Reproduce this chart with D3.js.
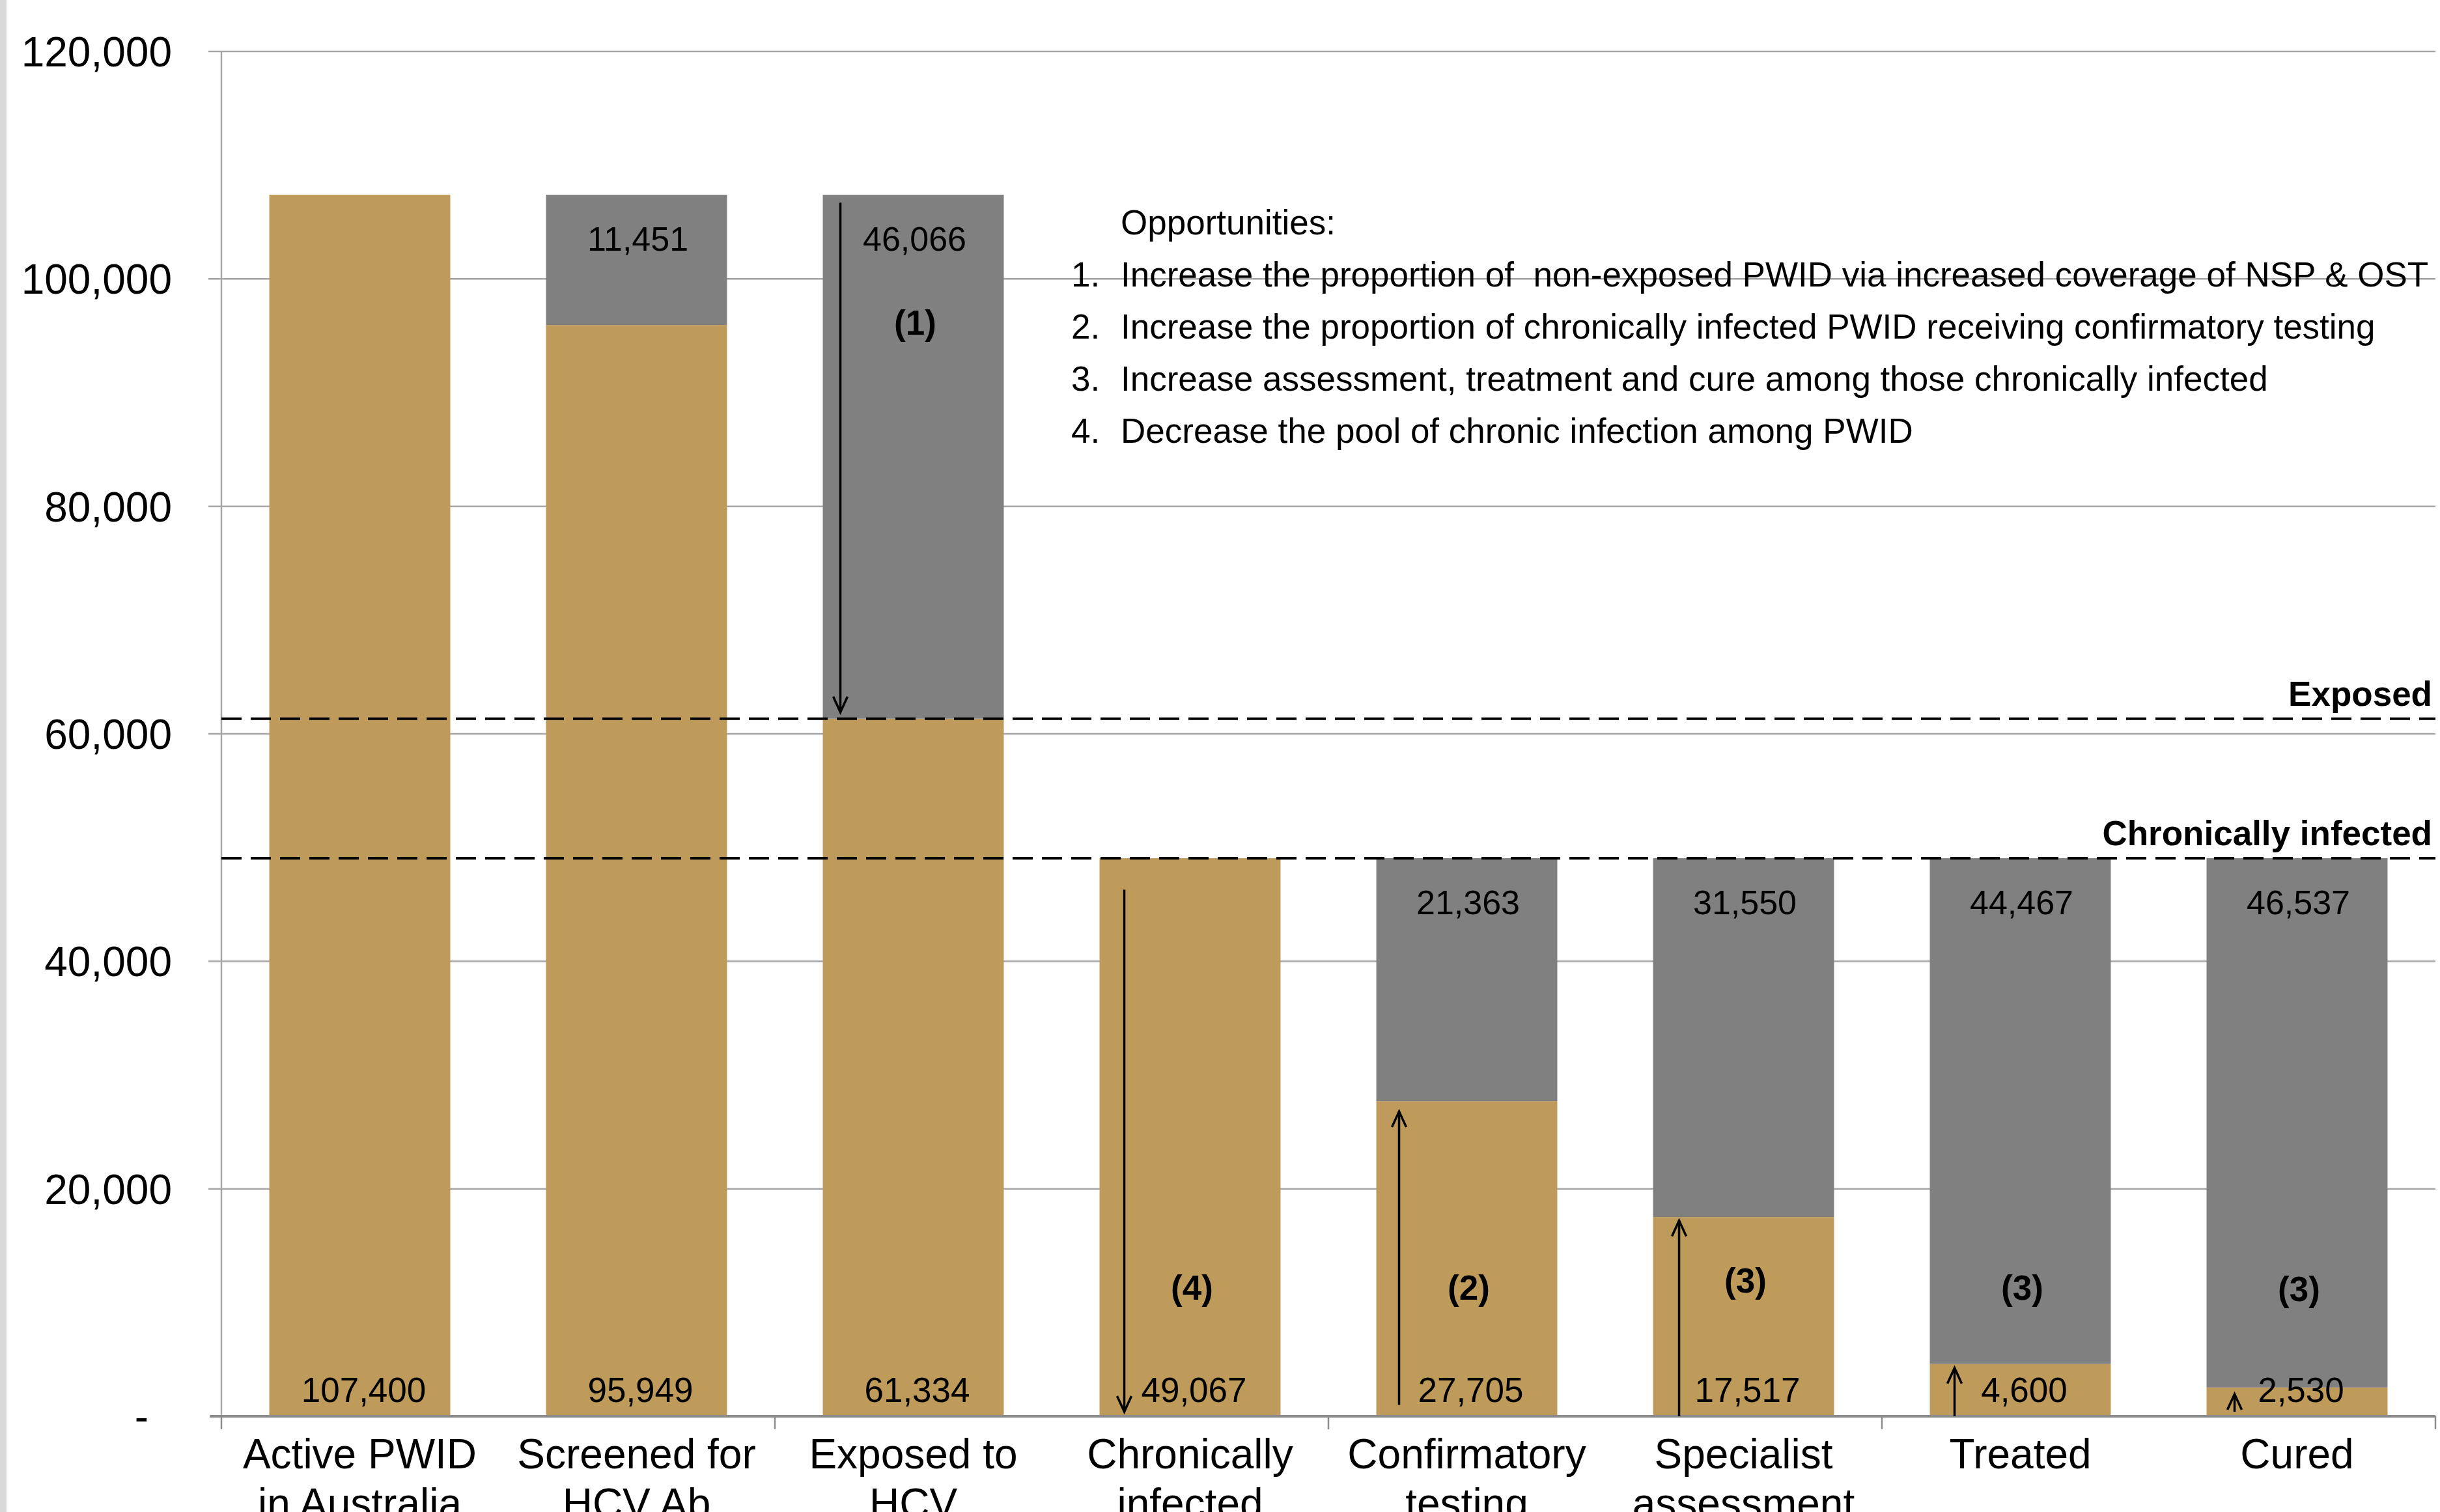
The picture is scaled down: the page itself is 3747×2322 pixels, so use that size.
<!DOCTYPE html>
<html>
<head>
<meta charset="utf-8">
<script src="https://cdn.jsdelivr.net/npm/d3@7/dist/d3.min.js"></script>
<style>
  body { margin: 0; overflow: hidden; background: #fff; }
  text { font-family: "Liberation Sans", Arial, sans-serif; fill: #000; }
</style>
</head>
<body>
<svg id="chart" width="3747" height="2322"></svg>
<script>
// categories, two lines each
const categories = [
    ["Active PWID", "in Australia"],
    ["Screened for", "HCV Ab"],
    ["Exposed to", "HCV"],
    ["Chronically", "infected"],
    ["Confirmatory", "testing"],
    ["Specialist", "assessment"],
    ["Treated", ""],
    ["Cured", ""]
];
const reached = [107400, 95949, 61334, 49067, 27705, 17517, 4600, 2530];
const gap = [0, 11451, 46066, 0, 21363, 31550, 44467, 46537];

const yTicks = [0, 20000, 40000, 60000, 80000, 100000, 120000];

const refLines = [
    { label: "Exposed", value: 61334 },
    { label: "Chronically infected", value: 49067 }
];

// opportunity markers: bar index, value where the "(n)" sits
const markers = [
    { bar: 2, text: "(1)", value: 96200 },
    { bar: 3, text: "(4)", value: 11350 },
    { bar: 4, text: "(2)", value: 11350 },
    { bar: 5, text: "(3)", value: 11950 },
    { bar: 6, text: "(3)", value: 11350 },
    { bar: 7, text: "(3)", value: 11250 }
];

// arrows: bar index, from value, to value
const arrows = [
    { bar: 2, from: 106700, to: 61900 },
    { bar: 3, from: 46300, to: 400 },
    { bar: 4, from: 1000, to: 26800 },
    { bar: 5, from: 0, to: 17200 },
    { bar: 6, from: 0, to: 4250 },
    { bar: 7, from: 400, to: 1950 }
];

const opportunities = [
    "Increase the proportion of  non-exposed PWID via increased coverage of NSP & OST",
    "Increase the proportion of chronically infected PWID receiving confirmatory testing",
    "Increase assessment, treatment and cure among those chronically infected",
    "Decrease the pool of chronic infection among PWID"
];

const gold = "#BF9B5B";
const grey = "#808080";

const svg = d3.select('#chart');
const width = +svg.attr('width');
const height = +svg.attr('height');

const margin = { top: 79, right: 7, left: 340 };
const baseY = 2175;

const xScale = d3.scaleBand()
    .domain(d3.range(categories.length))
    .range([margin.left, width - margin.right])
    .paddingInner(0.346)
    .paddingOuter(0.173);

const yScale = d3.scaleLinear()
    .domain([0, 120000])
    .range([baseY, margin.top]);

const fmt = d3.format(",");

// left edge strip
svg.append('rect').attr('x', 0).attr('y', 0).attr('width', 10).attr('height', height).attr('fill', '#d9d9d9');

// gridlines
svg.append('g')
    .selectAll('line')
    .data(yTicks.filter(d => d > 0))
    .enter().append('line')
    .attr('x1', margin.left - 20)
    .attr('x2', width - margin.right)
    .attr('y1', d => yScale(d))
    .attr('y2', d => yScale(d))
    .attr('stroke', '#a6a6a6')
    .attr('stroke-width', 2.5);

// y axis line
svg.append('line')
    .attr('x1', margin.left).attr('x2', margin.left)
    .attr('y1', yScale(120000)).attr('y2', baseY)
    .attr('stroke', '#a6a6a6').attr('stroke-width', 2.5);

// y tick labels
svg.append('g')
    .selectAll('text')
    .data(yTicks)
    .enter().append('text')
    .attr('x', d => d == 0 ? 228 : 264)
    .attr('y', d => yScale(d))
    .attr('dy', '0.36em')
    .attr('text-anchor', 'end')
    .style('font-size', '64px')
    .text(d => d == 0 ? "-" : fmt(d));

// bars
const barGroup = svg.append('g');
barGroup.selectAll('rect.gold')
    .data(reached)
    .enter().append('rect')
    .attr('class', 'gold')
    .attr('x', (d, i) => xScale(i))
    .attr('width', xScale.bandwidth())
    .attr('y', d => yScale(d))
    .attr('height', d => baseY - yScale(d))
    .attr('fill', gold);

barGroup.selectAll('rect.grey')
    .data(gap)
    .enter().append('rect')
    .attr('class', 'grey')
    .attr('x', (d, i) => xScale(i))
    .attr('width', xScale.bandwidth())
    .attr('y', (d, i) => yScale(reached[i] + d))
    .attr('height', (d, i) => yScale(reached[i]) - yScale(reached[i] + d))
    .attr('fill', grey);

// x axis
svg.append('line')
    .attr('x1', margin.left - 18).attr('x2', width - margin.right)
    .attr('y1', baseY).attr('y2', baseY)
    .attr('stroke', '#8c8c8c').attr('stroke-width', 4);

const tickPos = [0, 2, 4, 6, 8].map(i => margin.left + i * xScale.step());
svg.append('g')
    .selectAll('line')
    .data(tickPos)
    .enter().append('line')
    .attr('x1', d => d).attr('x2', d => d)
    .attr('y1', baseY).attr('y2', baseY + 20)
    .attr('stroke', '#8c8c8c').attr('stroke-width', 2.5);

// category labels
const catG = svg.append('g');
categories.forEach((c, i) => {
    const t = catG.append('text')
        .attr('x', xScale(i) + xScale.bandwidth() / 2)
        .attr('y', 2255)
        .attr('text-anchor', 'middle')
        .style('font-size', '64px');
    t.append('tspan').attr('x', xScale(i) + xScale.bandwidth() / 2).text(c[0]);
    t.append('tspan').attr('x', xScale(i) + xScale.bandwidth() / 2).attr('dy', 76).text(c[1]);
});

// value labels in gold (bottom)
svg.append('g')
    .selectAll('text')
    .data(reached)
    .enter().append('text')
    .attr('x', (d, i) => xScale(i) + xScale.bandwidth() / 2 + 6)
    .attr('y', baseY - 22)
    .attr('text-anchor', 'middle')
    .style('font-size', '53px')
    .text(d => fmt(d));

// value labels in grey (top)
svg.append('g')
    .selectAll('text')
    .data(gap.map((d, i) => ({ v: d, i: i })).filter(d => d.v > 0))
    .enter().append('text')
    .attr('x', d => xScale(d.i) + xScale.bandwidth() / 2 + 2)
    .attr('y', d => yScale(reached[d.i] + d.v) + 86)
    .attr('text-anchor', 'middle')
    .style('font-size', '52px')
    .text(d => fmt(d.v));

// dashed reference lines
refLines.forEach(r => {
    svg.append('line')
        .attr('x1', margin.left).attr('x2', width - margin.right)
        .attr('y1', yScale(r.value)).attr('y2', yScale(r.value))
        .attr('stroke', '#000').attr('stroke-width', 4)
        .attr('stroke-dasharray', '31,14');
    svg.append('text')
        .attr('x', width - 12)
        .attr('y', yScale(r.value) - 20)
        .attr('text-anchor', 'end')
        .style('font-size', '53px')
        .style('font-weight', 'bold')
        .text(r.label);
});

// markers
svg.append('g')
    .selectAll('text')
    .data(markers)
    .enter().append('text')
    .attr('x', d => xScale(d.bar) + xScale.bandwidth() / 2 + 3)
    .attr('y', d => yScale(d.value))
    .attr('dy', '0.36em')
    .attr('text-anchor', 'middle')
    .style('font-size', '53px')
    .style('font-weight', 'bold')
    .text(d => d.text);

// arrows
const arrowOffset = [27, 38, 35, 40, 38, 43];
arrows.forEach((a, k) => {
    const x = xScale(a.bar) + arrowOffset[k];
    const y1 = yScale(a.from), y2 = yScale(a.to);
    const dir = y2 > y1 ? 1 : -1;
    svg.append('line')
        .attr('x1', x).attr('x2', x).attr('y1', y1).attr('y2', y2)
        .attr('stroke', '#000').attr('stroke-width', 3.5);
    svg.append('path')
        .attr('d', `M${x - 11},${y2 - dir * 24} L${x},${y2} L${x + 11},${y2 - dir * 24}`)
        .attr('fill', 'none')
        .attr('stroke', '#000').attr('stroke-width', 3.5);
});

// opportunities text
const opp = svg.append('g');
opp.append('text')
    .attr('x', 1721).attr('y', 360)
    .style('font-size', '53px')
    .text("Opportunities:");
opportunities.forEach((o, i) => {
    opp.append('text')
        .attr('x', 1645).attr('y', 440 + i * 80)
        .style('font-size', '53px')
        .text((i + 1) + ".");
    opp.append('text')
        .attr('x', 1721).attr('y', 440 + i * 80)
        .style('font-size', '53px')
        .style('white-space', 'pre')
        .text(o);
});
</script>
</body>
</html>
